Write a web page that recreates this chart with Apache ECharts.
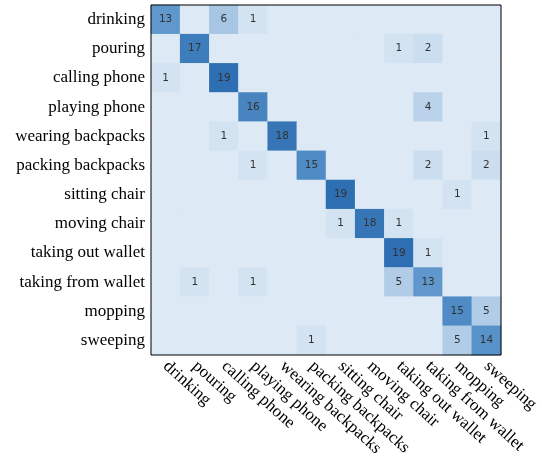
<!DOCTYPE html>
<html><head><meta charset="utf-8">
<script src="https://cdn.jsdelivr.net/npm/echarts@6/dist/echarts.min.js"></script>
<style>html,body{margin:0;padding:0;background:#fff}#c{width:542px;height:458px}</style>
</head><body><div id="c"></div>
<script>
const categories = ['drinking','pouring','calling phone','playing phone','wearing backpacks','packing backpacks','sitting chair','moving chair','taking out wallet','taking from wallet','mopping','sweeping'];
// rows = true class, columns = predicted class
const row0  = [13,0,6,1,0,0,0,0,0,0,0,0];
const row1  = [0,17,0,0,0,0,0,0,1,2,0,0];
const row2  = [1,0,19,0,0,0,0,0,0,0,0,0];
const row3  = [0,0,0,16,0,0,0,0,0,4,0,0];
const row4  = [0,0,1,0,18,0,0,0,0,0,0,1];
const row5  = [0,0,0,1,0,15,0,0,0,2,0,2];
const row6  = [0,0,0,0,0,0,19,0,0,0,1,0];
const row7  = [0,0,0,0,0,0,1,18,1,0,0,0];
const row8  = [0,0,0,0,0,0,0,0,19,1,0,0];
const row9  = [0,1,0,1,0,0,0,0,5,13,0,0];
const row10 = [0,0,0,0,0,0,0,0,0,0,15,5];
const row11 = [0,0,0,0,0,1,0,0,0,0,5,14];
const matrix = [row0,row1,row2,row3,row4,row5,row6,row7,row8,row9,row10,row11];

const data = [];
matrix.forEach((r, i) => r.forEach((v, j) => data.push([j, i, v])));

const chart = echarts.init(document.getElementById('c'));
chart.setOption({
  animation: false,
  grid: {left: 151, top: 5, width: 350, height: 350, outerBoundsMode: 'none', containLabel: false,
    show: true, borderColor: '#000', borderWidth: 1, backgroundColor: 'transparent', z: 10},
  xAxis: {
    type: 'category', data: categories,
    axisLine: {show: false}, axisTick: {show: false}, splitLine: {show: false},
    axisLabel: {rotate: -42, interval: 0, fontFamily: 'Liberation Serif', fontSize: 17, color: '#000', margin: 9}
  },
  yAxis: {
    type: 'category', data: categories, inverse: true,
    axisLine: {show: false}, axisTick: {show: false}, splitLine: {show: false},
    axisLabel: {interval: 0, fontFamily: 'Liberation Serif', fontSize: 17, color: '#000', margin: 6}
  },
  visualMap: {
    show: false, type: 'continuous', min: 0, max: 19, dimension: 2,
    inRange: {color: ['#dde9f5', '#b3cee8', '#80b0da', '#5590c8', '#2e6fb3']}
  },
  series: [{
    type: 'heatmap', data: data,
    label: {show: true, fontFamily: 'DejaVu Sans', fontSize: 10.5, color: '#333',
      formatter: p => p.value[2] === 0 ? '' : String(p.value[2])},
    itemStyle: {borderWidth: 0}
  }]
});
</script></body></html>
